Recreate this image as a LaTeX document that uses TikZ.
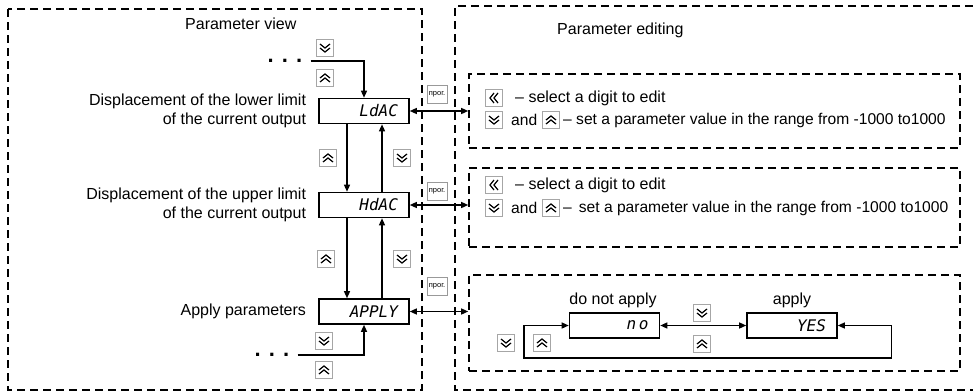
\documentclass[tikz,border=0pt]{standalone}
\usepackage{fontspec}
\setmainfont{Liberation Sans}
\newfontfamily\segfont{DejaVu Sans Mono}
\usetikzlibrary{arrows.meta,positioning,calc}
\tikzset{
  panel/.style={dash pattern=on 8pt off 5pt, line width=1.6pt},
  editbox/.style={draw, panel, minimum width=491pt, inner sep=0pt},
  dispbox/.style={draw, line width=1.6pt, minimum width=90pt, minimum height=25pt, inner sep=0pt,
    text width=68pt, align=right, font=\segfont\itshape\fontsize{16}{16}\selectfont},
  lbl/.style={inner sep=0pt, align=right},
  txt/.style={inner sep=0pt},
  settxt/.style={inner sep=0pt, font=\fontsize{15.6}{19}\selectfont},
  dots/.style={inner sep=0pt, font=\bfseries\fontsize{22}{22}\selectfont},
  keybox/.style={draw=gray!70, fill=white, line width=1pt, minimum size=17pt, inner sep=0pt},
  keydn/.style={keybox, path picture={
    \foreach \d in {-4,0}
      \draw[black, line width=1.2pt] ([shift={(-5,\d)}]path picture bounding box.center) -- ++(5,4) -- ++(5,-4);}},
  keyup/.style={keybox, path picture={
    \foreach \d in {0,4}
      \draw[black, line width=1.2pt] ([shift={(-5,\d)}]path picture bounding box.center) -- ++(5,-4) -- ++(5,4);}},
  keylt/.style={keybox, path picture={
    \foreach \d in {0,4}
      \draw[black, line width=1.2pt] ([shift={(\d,-5)}]path picture bounding box.center) -- ++(-4,5) -- ++(4,5);}},
  progkey/.style={draw=gray!80, line width=1pt, minimum width=20pt, minimum height=18pt, inner sep=0pt,
    font=\fontsize{7.5}{7.5}\selectfont},
  conn/.style={line width=1.3pt, -{Triangle[length=7pt,width=6pt]}},
  dconn/.style={line width=1.3pt, {Triangle[length=7pt,width=6pt]}-{Triangle[length=7pt,width=6pt]}},
}
\begin{document}
\begin{tikzpicture}[x=1pt, y=-1pt, font=\fontsize{16}{19}\selectfont]
  \useasboundingbox (0,0) rectangle (973,391);
  % panels
  \draw[panel] (8,9) rectangle (422,390);
  \draw[panel] (973,6) -- (455,6) -- (455,390) -- (973,390);
  \node[txt, anchor=west] (tView) at (185,24) {Parameter view};
  \node[txt, anchor=west] (tEdit) at (557,30) {Parameter editing};

  % parameter list
  \node[dispbox] (ldac) at (364,111) {LdAC};
  \node[dispbox] (hdac) at (364,205) {HdAC};
  \node[dispbox] (apply) at (364,311.5) {APPLY};
  \node[lbl, left=12pt of ldac] (lblLd) {Displacement of the lower limit\\of the current output};
  \node[lbl, left=12pt of hdac] (lblHd) {Displacement of the upper limit\\of the current output};
  \node[lbl, left=12pt of apply] (lblAp) {Apply parameters};

  \node[dots] (dotsT) at (285,61) {. . .};
  \node[dots] (dotsB) at (272,355) {. . .};
  \node[keydn] (kDn0) at (325,48) {};
  \node[keyup] (kUp0) at (325,78) {};
  \node[keyup] (kUp1) at (328,158) {};
  \node[keydn] (kDn1) at (402,158) {};
  \node[keyup] (kUp2) at (326,259) {};
  \node[keydn] (kDn2) at (402,259) {};
  \node[keydn] (kDn3) at (324,341) {};
  \node[keyup] (kUp3) at (324,370) {};

  \draw[conn] ([xshift=8pt]dotsT.east) -| (ldac.north);
  \draw[conn] ([xshift=8pt]dotsB.east) -| (apply.south);
  \draw[conn] ([xshift=-17pt]ldac.south) -- ([xshift=-17pt]hdac.north);
  \draw[conn] ([xshift=-17pt]hdac.south) -- ([xshift=-17pt]apply.north);
  \draw[conn] ([xshift=18pt]hdac.north) -- ([xshift=18pt]ldac.south);
  \draw[conn] ([xshift=18pt]apply.north) -- ([xshift=18pt]hdac.south);

  % editing boxes
  \node[editbox, minimum height=74pt] (ed1) at (714.5,111) {};
  \node[editbox, minimum height=79pt] (ed2) at (714.5,207.5) {};
  \node[editbox, minimum height=96pt] (ed3) at (714.5,323) {};

  \node[progkey] (pg1) at (437,94) {прог.};
  \node[progkey] (pg2) at (437,191) {прог.};
  \node[progkey] (pg3) at (437,286) {прог.};
  \draw[dconn] (ldac.east) -- (ldac.east -| ed1.west);
  \draw[dconn] (hdac.east) -- (hdac.east -| ed2.west);
  \draw[dconn] (apply.east) -- (apply.east -| ed3.west);

  \node[keylt] (kL1) at (494,98) {};
  \node[txt, right=12pt of kL1] (tSel1) {-- select a digit to edit};
  \node[keydn] (kD1) at (494,120) {};
  \node[settxt, right=8pt of kD1] (tAnd1) {and};
  \node[keyup] (kU1) at (551,120) {};
  \node[settxt, right=3pt of kU1] (tSet1) {-- set a parameter value in the range from -1000 to1000};

  \node[keylt] (kL2) at (494,185) {};
  \node[txt, right=12pt of kL2] (tSel2) {-- select a digit to edit};
  \node[keydn] (kD2) at (494,208) {};
  \node[settxt, right=8pt of kD2] (tAnd2) {and};
  \node[keyup] (kU2) at (551,208) {};
  \node[settxt, right=3pt of kU2] (tSet2) {--\hspace{7pt}set a parameter value in the range from -1000 to1000};

  \node[txt] (tNo) at (613,300) {do not apply};
  \node[txt] (tYes) at (792,300) {apply};
  \node[dispbox] (no) at (614.5,325.5) {n\,o};
  \node[dispbox] (yes) at (792,325.5) {YES};
  \node[keydn] (kDn5) at (702,313) {};
  \node[keyup] (kUp5) at (702,344) {};
  \node[keydn] (kDn6) at (506,343) {};
  \node[keyup] (kUp6) at (542,343) {};
  \coordinate (loopL) at (524,358);
  \draw[dconn] (no.east) -- (yes.west);
  \draw[dconn] (yes.east) -- ++(54,0) |- (loopL) |- (no.west);
\end{tikzpicture}
\end{document}
